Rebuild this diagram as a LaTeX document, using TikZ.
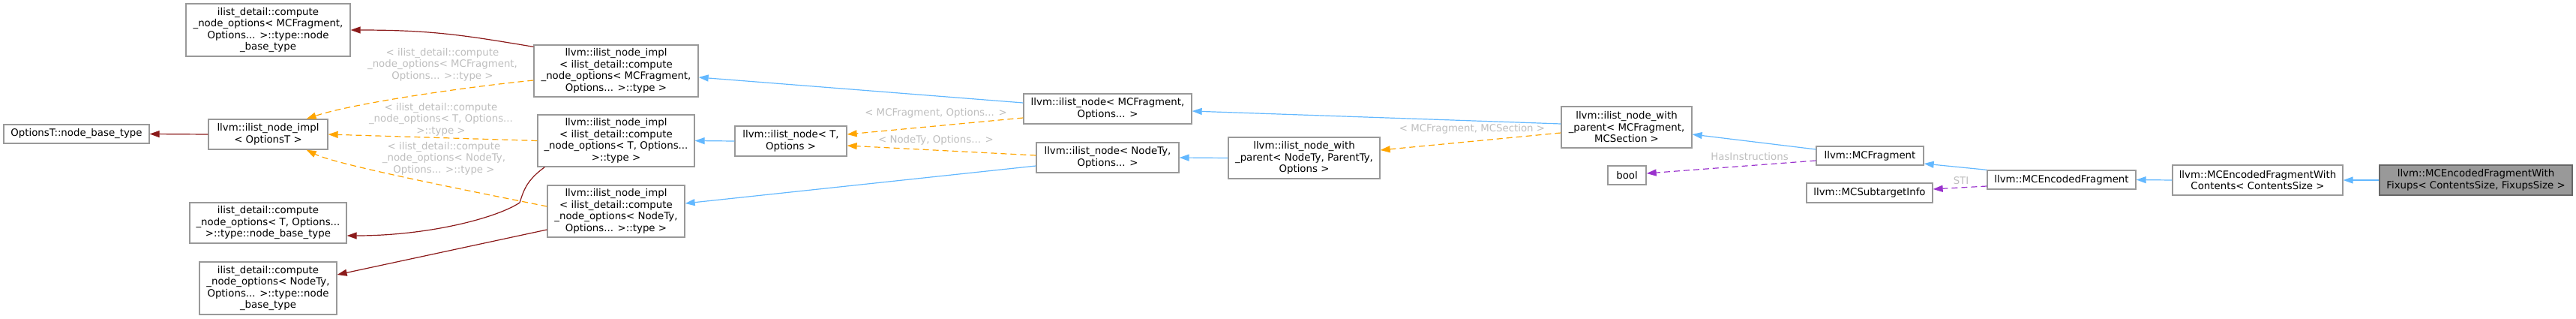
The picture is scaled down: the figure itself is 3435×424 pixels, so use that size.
\documentclass[tikz,border=0pt]{standalone}
\usepackage{fontspec}
\setmainfont{DejaVu Sans}
\usepackage{tikz}
\usetikzlibrary{positioning, arrows.meta, calc}
\definecolor{inhblue}{HTML}{63B8FF}
\definecolor{tmplorange}{HTML}{FFA500}
\definecolor{usedred}{HTML}{8B1A1A}
\definecolor{membpurple}{HTML}{9A32CD}
\definecolor{boxgray}{HTML}{999999}
\definecolor{lblgray}{HTML}{BEBEBE}
\definecolor{focusline}{HTML}{666666}

\begin{document}
\begin{tikzpicture}[x=1pt, y=-1pt,
    cls/.style={draw=boxgray, fill=white, line width=1.3pt, inner sep=0pt, align=center, font=\fontsize{13.33}{15.5}\selectfont},
    lbl/.style={text=lblgray, inner sep=0pt, align=center, font=\fontsize{13.33}{15.5}\selectfont},
    inh/.style={draw=inhblue, line width=1.2pt, -{Triangle[length=13pt,width=9pt]}},
    tmpl/.style={draw=tmplorange, line width=1.2pt, dash pattern=on 8pt off 5pt, -{Triangle[length=13pt,width=9pt]}},
    usage/.style={draw=usedred, line width=1.2pt, -{Triangle[length=13pt,width=9pt]}},
    memb/.style={draw=membpurple, line width=1.2pt, dash pattern=on 8pt off 5pt, -{Triangle[length=13pt,width=9pt]}}]
    \useasboundingbox (0,0) rectangle (3435,424);

    % Left column - node base types
    \node[cls, minimum width=194pt, minimum height=25pt] (baseOpt) at (102,178.5) {OptionsT::node\_base\_type};
    \node[cls, minimum width=219pt, minimum height=70pt] (baseMC) at (357.5,40) {ilist\_detail::compute\\\_node\_options< MCFragment,\\Options... >::type::node\\\_base\_type};
    \node[cls, minimum width=159pt, minimum height=40pt] (implOpt) at (357.5,179) {llvm::ilist\_node\_impl\\< OptionsT >};
    \node[cls, minimum width=209pt, minimum height=54pt] (baseT) at (357.5,297) {ilist\_detail::compute\\\_node\_options< T, Options...\\>::type::node\_base\_type};
    \node[cls, minimum width=183pt, minimum height=70pt] (baseNT) at (357.5,384) {ilist\_detail::compute\\\_node\_options< NodeTy,\\Options... >::type::node\\\_base\_type};

    % ilist_node_impl instances
    \node[cls, minimum width=219pt, minimum height=69pt] (implMC) at (821.5,94.5) {llvm::ilist\_node\_impl\\< ilist\_detail::compute\\\_node\_options< MCFragment,\\Options... >::type >};
    \node[cls, minimum width=209pt, minimum height=69pt] (implT) at (821.5,187.5) {llvm::ilist\_node\_impl\\< ilist\_detail::compute\\\_node\_options< T, Options...\\>::type >};
    \node[cls, minimum width=183pt, minimum height=69pt] (implNT) at (821.5,281.5) {llvm::ilist\_node\_impl\\< ilist\_detail::compute\\\_node\_options< NodeTy,\\Options... >::type >};

    % ilist_node and ilist_node_with_parent
    \node[cls, minimum width=149pt, minimum height=40pt] (nodeT) at (1054.5,188) {llvm::ilist\_node< T,\\Options >};
    \node[cls, minimum width=224pt, minimum height=40pt] (nodeMC) at (1477,145) {llvm::ilist\_node< MCFragment,\\Options... >};
    \node[cls, minimum width=190pt, minimum height=40pt] (nodeNT) at (1477,210) {llvm::ilist\_node< NodeTy,\\Options... >};
    \node[cls, minimum width=202pt, minimum height=55pt] (parentNT) at (1739,210.5) {llvm::ilist\_node\_with\\\_parent< NodeTy, ParentTy,\\Options >};
    \node[cls, minimum width=174pt, minimum height=55pt] (parentMC) at (2169,169.5) {llvm::ilist\_node\_with\\\_parent< MCFragment,\\MCSection >};

    % MC fragment classes
    \node[cls, minimum width=51pt, minimum height=25pt] (bool) at (2169.5,233.5) {bool};
    \node[cls, minimum width=143pt, minimum height=25pt] (frag) at (2493.5,207.5) {llvm::MCFragment};
    \node[cls, minimum width=168pt, minimum height=26pt] (sti) at (2493,257) {llvm::MCSubtargetInfo};
    \node[cls, minimum width=198pt, minimum height=25pt] (enc) at (2749,239.5) {llvm::MCEncodedFragment};
    \node[cls, minimum width=227pt, minimum height=40pt] (contents) at (3010.5,240) {llvm::MCEncodedFragmentWith\\Contents< ContentsSize >};
    \node[cls, fill=boxgray, draw=focusline, minimum width=257pt, minimum height=40pt] (fixups) at (3301.5,240) {llvm::MCEncodedFragmentWith\\Fixups< ContentsSize, FixupsSize >};

    % Edge labels
    \node[lbl] (lblImplMC) at (590,86) {< ilist\_detail::compute\\\_node\_options< MCFragment,\\Options... >::type >};
    \node[lbl] (lblImplT) at (588,159) {< ilist\_detail::compute\\\_node\_options< T, Options...\\>::type >};
    \node[lbl] (lblImplNT) at (592,211) {< ilist\_detail::compute\\\_node\_options< NodeTy,\\Options... >::type >};
    \node[lbl] (lblNodeMC) at (1248,151) {< MCFragment, Options... >};
    \node[lbl] (lblNodeNT) at (1248,187) {< NodeTy, Options... >};
    \node[lbl] (lblParent) at (1963,172) {< MCFragment, MCSection >};
    \node[lbl] (lblHas) at (2333,209) {HasInstructions};
    \node[lbl] (lblSti) at (2615,241) {STI};

    % Used-by edges (dark red)
    \draw[usage] (implOpt.west) -- (baseOpt.east);
    \draw[usage] ([yshift=-3pt]implMC.north west) .. controls +(-90,-15) and +(110,0) .. (baseMC.east);
    \draw[usage] ([xshift=10pt]implT.south west) .. controls +(-25,18) and +(5,-15) .. (693,270) .. controls +(-30,20) and +(110,0) .. ([yshift=-17pt]baseT.east);
    \draw[usage] ([yshift=-24.5pt]implNT.west) -- ([yshift=18pt]baseNT.east);

    % Template instance edges (orange)
    \draw[tmpl] ([yshift=-12.5pt]implMC.west) .. controls +(-100,10) and +(60,-20) .. ([xshift=-29pt]implOpt.north east);
    \draw[tmpl] (implT.west) -- (implOpt.east);
    \draw[tmpl] ([yshift=6.5pt]implNT.west) .. controls +(-100,-20) and +(40,20) .. ([xshift=-29pt]implOpt.south east);
    \draw[tmpl] ([yshift=-12pt]nodeMC.west) -- ([yshift=9pt]nodeT.east);
    \draw[tmpl] ([yshift=3pt]nodeNT.west) -- ([yshift=-6pt]nodeT.east);
    \draw[tmpl] ([yshift=-7.5pt]parentMC.west) -- ([yshift=10.5pt]parentNT.east);

    % Inheritance edges (blue)
    \draw[inh] (nodeT.west) -- (implT.east);
    \draw[inh] ([yshift=8pt]nodeMC.west) -- ([yshift=-8.5pt]implMC.east);
    \draw[inh] ([yshift=-11pt]nodeNT.west) -- ([yshift=10.5pt]implNT.east);
    \draw[inh] ([yshift=4.5pt]parentMC.west) -- ([yshift=-3pt]nodeMC.east);
    \draw[inh] (parentNT.west) -- (nodeNT.east);
    \draw[inh] ([yshift=8.5pt]frag.west) -- ([yshift=-9.5pt]parentMC.east);
    \draw[inh] (enc.north west) -- ([yshift=-10.5pt]frag.east);
    \draw[inh] (contents.west) -- (enc.east);
    \draw[inh] (fixups.west) -- (contents.east);

    % Member edges (purple)
    \draw[memb] ([yshift=-6.5pt]frag.west) -- ([yshift=2.5pt]bool.east);
    \draw[memb] ([yshift=-8.5pt]enc.west) -- ([yshift=5pt]sti.east);
\end{tikzpicture}
\end{document}
